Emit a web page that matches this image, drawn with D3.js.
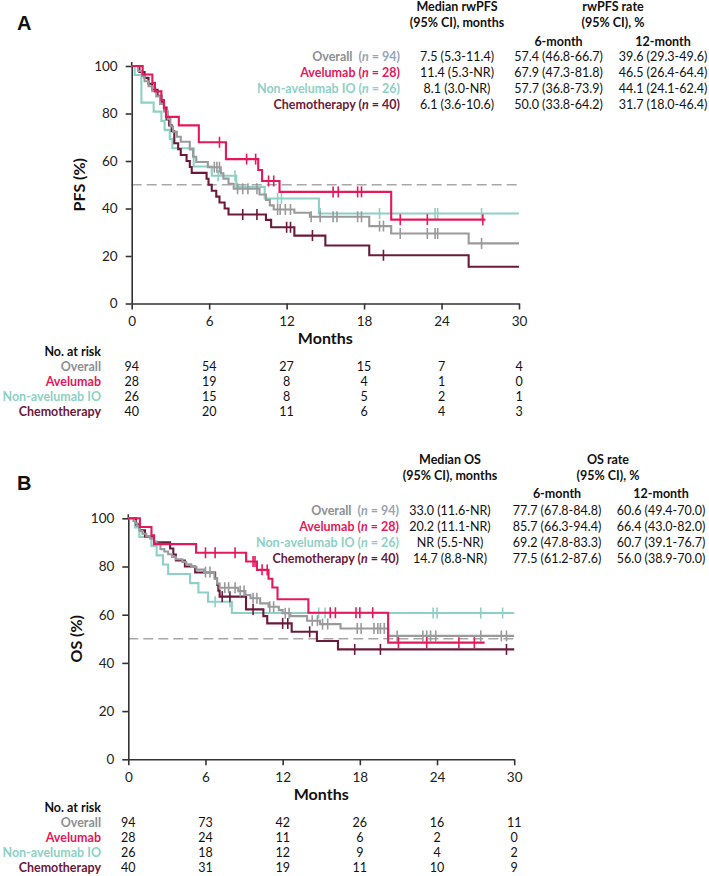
<!DOCTYPE html>
<html><head><meta charset="utf-8">
<script src="https://cdn.jsdelivr.net/npm/d3@7"></script>
<style>
body{margin:0;background:#fff}
svg{display:block}
text{font-family:Lato,'Open Sans',sans-serif}
</style>
</head><body>
<svg id="chart" width="709" height="876"></svg>
<script>
// ---------------- DATA ----------------
const groups = ["Overall", "Avelumab", "Non-avelumab IO", "Chemotherapy"];
const groupN = [94, 28, 26, 40];
const monthTicks = [0, 6, 12, 18, 24, 30];
const pctTicks = [0, 20, 40, 60, 80, 100];

// Panel A: rwPFS step curves [month, %]
const pfsOverall = [[0,100],[0.5,97.9],[0.8,95.7],[1.0,93.6],[1.3,91.5],[1.6,89.4],[1.9,87.2],[2.2,84.0],[2.5,80.9],[2.8,77.7],[3.0,74.5],[3.2,72.3],[3.5,70.2],[3.8,68.1],[4.5,64.9],[4.75,61.8],[5.0,59.6],[5.9,57.4],[6.9,54.8],[7.1,52.6],[7.5,50.4],[7.9,48.3],[9.9,45.9],[10.4,43.6],[10.7,41.3],[11.0,39.6],[12.6,38.2],[13.8,36.5],[18.4,32.6],[20.1,29.5],[26.1,25.3]];
const pfsAvelumab = [[0,100],[0.85,96.4],[1.6,92.9],[1.8,89.3],[2.3,85.7],[2.5,82.1],[2.65,78.6],[3.65,75.0],[5.2,67.9],[7.3,60.8],[9.8,56.2],[10.1,51.6],[11.45,47.0],[20.1,35.3]];
const pfsNonIO = [[0,100],[0.23,96.2],[0.75,84.6],[1.7,80.8],[2.3,76.9],[2.55,73.1],[2.95,69.2],[3.15,65.4],[4.8,57.7],[6.2,53.8],[8.1,49.1],[10.3,44.2],[14.5,37.9]];
const pfsChemo = [[0,100],[0.6,97.5],[1.0,95.0],[1.3,92.5],[1.6,90.0],[2.0,87.5],[2.3,85.0],[2.5,82.5],[2.7,77.5],[2.9,75.0],[3.1,72.5],[3.3,67.5],[3.6,65.0],[3.8,62.5],[4.25,60.0],[4.5,57.5],[4.65,55.0],[5.8,52.5],[5.95,50.0],[6.2,47.5],[6.55,45.0],[6.8,42.5],[7.2,40.0],[7.5,37.5],[10.4,35.2],[10.8,32.1],[12.6,28.6],[15.0,24.4],[18.4,20.3],[26.1,15.5]];
const pfsEnd = [30, 27.4, 30, 30];
const pfsCensOverall = [6.4,6.6,6.8,8.2,8.6,9.0,9.7,11.3,11.5,11.9,12.3,13.9,14.6,15.6,15.9,17.5,17.8,19.2,19.5,20.8,22.9,23.5,23.7,27.1];
const pfsCensAvelumab = [6.8,8.9,9.6,10.6,11.0,15.6,16.0,17.5,17.8,20.8,22.9,27.2];
const pfsCensNonIO = [6.7,8.0,11.3,11.6,14.6,19.2,23.5,23.7,27.1];
const pfsCensChemo = [8.6,9.7,12.0,12.3,14.0,19.5];

// Panel B: OS step curves [month, %]
const osOverall = [[0,100],[0.4,98.9],[0.55,97.9],[0.7,96.8],[0.9,94.7],[1.1,93.6],[1.4,92.6],[1.7,91.5],[2.0,90.4],[2.2,89.4],[2.5,87.2],[2.8,86.2],[3.1,85.1],[3.4,84.0],[3.7,83.0],[4.2,81.9],[4.5,80.9],[4.9,79.8],[5.3,78.7],[5.9,77.7],[6.7,75.0],[6.9,72.9],[7.1,71.2],[8.55,69.8],[9.1,68.2],[9.5,66.8],[10.25,64.7],[10.9,63.3],[11.7,61.9],[12.0,60.6],[12.6,59.4],[13.9,57.5],[14.9,56.1],[16.5,54.3],[20.2,51.2]];
const osAvelumab = [[0,100],[0.9,96.4],[1.8,92.9],[2.0,89.3],[5.27,85.7],[9.16,82.1],[10.0,78.6],[10.9,74.9],[11.2,71.3],[11.6,66.4],[14.0,60.8],[20.2,48.4]];
const osNonIO = [[0,100],[0.52,96.2],[0.86,92.3],[1.8,88.5],[2.2,84.6],[2.7,80.8],[3.1,76.9],[4.8,73.1],[5.45,69.2],[6.2,65.4],[8.05,60.7]];
const osChemo = [[0,100],[0.6,97.5],[0.9,95.0],[1.3,92.5],[2.0,90.0],[3.25,87.5],[3.5,85.0],[3.7,82.5],[4.4,80.0],[5.2,77.5],[6.75,75.0],[6.9,72.5],[7.0,70.0],[7.1,67.5],[9.15,62.2],[10.5,59.4],[10.8,56.4],[12.7,52.9],[14.66,49.1],[16.3,45.6]];
const osEnd = [30, 27.7, 30, 30];
const osCensOverall = [6.0,6.35,7.5,7.8,8.3,8.7,9.0,9.7,10.0,11.0,11.3,12.2,12.5,14.3,14.7,15.1,15.5,17.8,18.1,19.1,19.4,19.6,19.9,20.9,22.9,23.2,23.5,23.9,27.4,29.0,29.4];
const osCensAvelumab = [6.0,6.75,8.3,9.7,9.85,10.4,10.8,15.7,16.1,17.7,18.0,19.0,21.0,23.2,25.7,26.9];
const osCensNonIO = [6.75,7.9,14.8,15.3,23.7,24.0,27.4,29.1];
const osCensChemo = [7.3,7.9,9.7,12.0,12.4,14.1,17.6,19.6,29.4];

// Tables
const pfsMedian = ["7.5 (5.3-11.4)", "11.4 (5.3-NR)", "8.1 (3.0-NR)", "6.1 (3.6-10.6)"];
const pfsRate6 = ["57.4 (46.8-66.7)", "67.9 (47.3-81.8)", "57.7 (36.8-73.9)", "50.0 (33.8-64.2)"];
const pfsRate12 = ["39.6 (29.3-49.6)", "46.5 (26.4-64.4)", "44.1 (24.1-62.4)", "31.7 (18.0-46.4)"];
const osMedian = ["33.0 (11.6-NR)", "20.2 (11.1-NR)", "NR (5.5-NR)", "14.7 (8.8-NR)"];
const osRate6 = ["77.7 (67.8-84.8)", "85.7 (66.3-94.4)", "69.2 (47.8-83.3)", "77.5 (61.2-87.6)"];
const osRate12 = ["60.6 (49.4-70.0)", "66.4 (43.0-82.0)", "60.7 (39.1-76.7)", "56.0 (38.9-70.0)"];

// Number at risk
const pfsAtRisk = [[94,54,27,15,7,4],[28,19,8,4,1,0],[26,15,8,5,2,1],[40,20,11,6,4,3]];
const osAtRisk = [[94,73,42,26,16,11],[28,24,11,6,2,0],[26,18,12,9,4,2],[40,31,19,11,10,9]];

// ---------------- STYLE ----------------
const lineColors = ["#9a9a9a", "#e3195b", "#8dd0c6", "#6b1a3b"];
const textColors = ["#8c8f94", "#e3195b", "#8dd0c6", "#6b1a3b"];
const nColors = ["#97a4b7", "#e3195b", "#8dd0c6", "#6b1a3b"];
const drawOrder = [2, 3, 0, 1];

const svg = d3.select("#chart");
svg.append("rect").attr("width",709).attr("height",876).attr("fill","#fff");

function survAt(steps, t){
  let v = steps[0][1];
  for (const s of steps) { if (s[0] <= t) v = s[1]; }
  return v;
}

function panel(cfg){
  const g = svg.append("g");
  const x = d3.scaleLinear().domain([0,30]).range(cfg.xr);
  const y = d3.scaleLinear().domain([0,100]).range(cfg.yr);

  // panel letter
  g.append("text").attr("x",17).attr("y",cfg.letterY)
    .style("font-family","'Liberation Sans',Arial,sans-serif")
    .attr("font-weight","bold").attr("font-size",20).attr("fill","#111").text(cfg.letter);

  // dashed median line
  g.append("line").attr("x1",x(0)).attr("x2",x(30)).attr("y1",y(50)).attr("y2",y(50))
    .attr("stroke","#a8a8a8").attr("stroke-width",1.5).attr("stroke-dasharray","10,5");

  // axes
  const ya = g.append("g").attr("transform",`translate(${x(0)},0)`)
    .call(d3.axisLeft(y).tickValues(pctTicks).tickSize(6).tickSizeOuter(0).tickPadding(8));
  const xa = g.append("g").attr("transform",`translate(0,${y(0)})`)
    .call(d3.axisBottom(x).tickValues(monthTicks).tickSize(6).tickSizeOuter(0).tickPadding(7));
  [ya, xa].forEach(a => {
    a.select(".domain").attr("stroke","#333").attr("stroke-width",1.6);
    a.selectAll(".tick line").attr("stroke","#333").attr("stroke-width",1.6);
    a.selectAll(".tick text").attr("font-size",13.5).attr("fill","#222")
      .style("font-family","Lato,sans-serif");
  });
  g.append("line").attr("x1",x(0)).attr("x2",x(0)).attr("y1",y(100)).attr("y2",y(100)-4)
    .attr("stroke","#333").attr("stroke-width",1.6);

  // axis titles
  g.append("text").attr("transform",`translate(${cfg.yLabelX},${(cfg.yr[0]+cfg.yr[1])/2}) rotate(-90)`)
    .attr("text-anchor","middle").attr("dy","0.35em").attr("font-weight","bold")
    .attr("font-size",16).attr("fill","#111").text(cfg.yLabel);
  g.append("text").attr("x",(cfg.xr[0]+cfg.xr[1])/2).attr("y",cfg.yr[0]+35)
    .attr("text-anchor","middle").attr("dy","0.35em").attr("font-weight","bold")
    .attr("font-size",16).attr("fill","#111").text("Months");

  // curves
  const line = d3.line().x(d=>x(d[0])).y(d=>y(d[1])).curve(d3.curveStepAfter);
  drawOrder.forEach(i => {
    const steps = cfg.curves[i];
    const pts = steps.concat([[cfg.ends[i], steps[steps.length-1][1]]]);
    g.append("path").datum(pts).attr("d",line).attr("fill","none")
      .attr("stroke",lineColors[i]).attr("stroke-width",2.1);
    g.selectAll(null).data(cfg.censors[i]).enter().append("line")
      .attr("x1",d=>x(d)).attr("x2",d=>x(d))
      .attr("y1",d=>y(survAt(steps,d))-5.5).attr("y2",d=>y(survAt(steps,d))+5.5)
      .attr("stroke",lineColors[i]).attr("stroke-width",1.6);
  });

  // statistics table
  const T = cfg.table;
  const hdr = (xx, yy, txt) => g.append("text").attr("x",xx).attr("y",yy).attr("dy","0.35em")
      .attr("text-anchor","middle").attr("font-weight","bold").attr("font-size",12.5)
      .attr("fill","#111").text(txt);
  hdr(T.cMed, T.h1, cfg.medTitle);
  hdr(T.cMed, T.h2, "(95% CI), months");
  hdr(T.cRate, T.h1, cfg.rateTitle);
  hdr(T.cRate, T.h2, "(95% CI), %");
  hdr(T.c6, T.h3, "6-month");
  hdr(T.c12, T.h3, "12-month");
  groups.forEach((name, i) => {
    const yy = T.rows[i];
    const t = g.append("text").attr("x",T.labelRight).attr("y",yy).attr("dy","0.35em")
      .attr("text-anchor","end").attr("font-weight","bold").attr("font-size",12.5)
      .attr("fill",textColors[i]);
    t.append("tspan").text(name + (i===0 ? "\u00a0\u00a0(" : " ("))
      .attr("fill", textColors[i]);
    t.select("tspan").text(name + (i===0 ? "\u00a0\u00a0" : " "));
    t.append("tspan").attr("fill",nColors[i]).text("(");
    t.append("tspan").attr("fill",nColors[i]).attr("font-style","italic").text("n");
    t.append("tspan").attr("fill",nColors[i]).text(" = " + groupN[i] + ")");
    [[T.cMed, cfg.med[i]], [T.c6, cfg.r6[i]], [T.c12, cfg.r12[i]]].forEach(([cx, s]) => {
      g.append("text").attr("x",cx).attr("y",yy).attr("dy","0.35em").attr("text-anchor","middle")
        .attr("font-size",12.5).attr("fill","#111").text(s);
    });
  });

  // number at risk
  const base = cfg.yr[0];
  g.append("text").attr("x",101).attr("y",base+48).attr("dy","0.35em").attr("text-anchor","end")
    .attr("font-weight","bold").attr("font-size",12.5).attr("fill","#111").text("No. at risk");
  groups.forEach((name, i) => {
    const yy = base + 63.5 + i*15;
    g.append("text").attr("x",101).attr("y",yy).attr("dy","0.35em").attr("text-anchor","end")
      .attr("font-weight","bold").attr("font-size",12.5).attr("fill",textColors[i]).text(name);
    g.selectAll(null).data(cfg.risk[i]).enter().append("text")
      .attr("x",(d,j)=>x(monthTicks[j])).attr("y",yy).attr("dy","0.35em")
      .attr("text-anchor","middle").attr("font-size",12.5).attr("fill","#111").text(d=>d);
  });
}

panel({
  letter:"A", letterY:30, xr:[131.7,519], yr:[303.5,66], yLabel:"PFS (%)", yLabelX:79,
  curves:[pfsOverall,pfsAvelumab,pfsNonIO,pfsChemo], ends:pfsEnd,
  censors:[pfsCensOverall,pfsCensAvelumab,pfsCensNonIO,pfsCensChemo],
  medTitle:"Median rwPFS", rateTitle:"rwPFS rate",
  med:pfsMedian, r6:pfsRate6, r12:pfsRate12, risk:pfsAtRisk,
  table:{labelRight:400, cMed:457, cRate:613, c6:558.5, c12:663, h1:7, h2:23, h3:41.5, rows:[57,72.8,88.5,104.3]}
});
panel({
  letter:"B", letterY:490, xr:[128.3,514.2], yr:[759.3,518.3], yLabel:"OS (%)", yLabelX:76,
  curves:[osOverall,osAvelumab,osNonIO,osChemo], ends:osEnd,
  censors:[osCensOverall,osCensAvelumab,osCensNonIO,osCensChemo],
  medTitle:"Median OS", rateTitle:"OS rate",
  med:osMedian, r6:osRate6, r12:osRate12, risk:osAtRisk,
  table:{labelRight:399, cMed:450, cRate:608, c6:557, c12:661, h1:459.5, h2:475.5, h3:493.5, rows:[511,527,543,559]}
});
</script>
</body></html>
